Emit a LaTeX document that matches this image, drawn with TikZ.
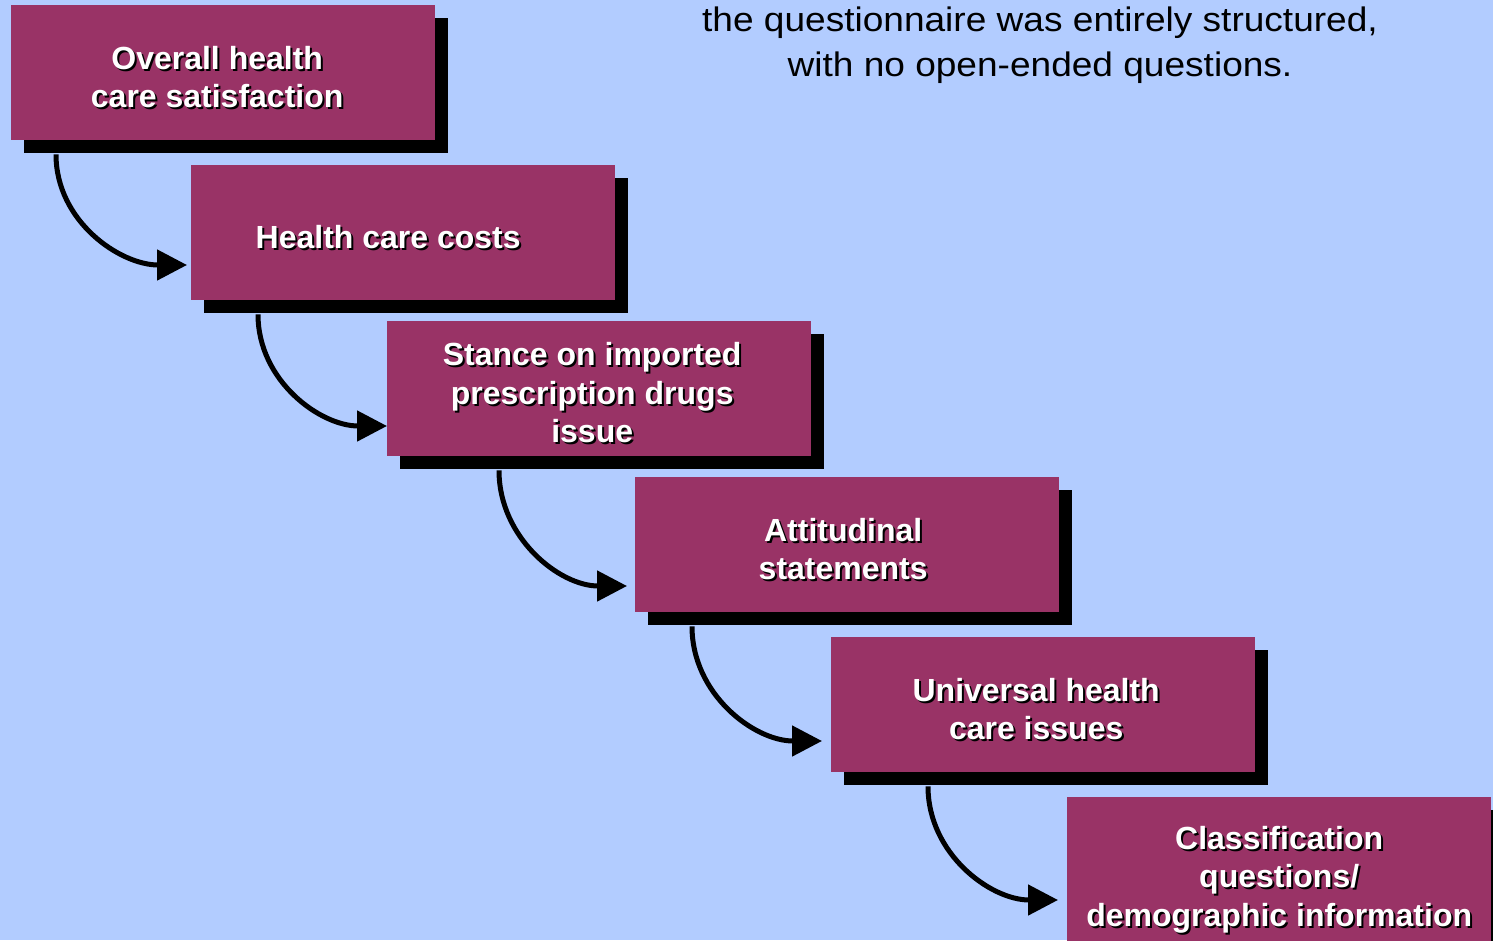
\documentclass[tikz,border=0pt]{standalone}
\usepackage{fontspec}
\setmainfont{Liberation Sans}
\newfontfamily\notefont[FakeStretch=1.09]{Liberation Sans}
\usetikzlibrary{arrows.meta,shadows}
\definecolor{slidebg}{RGB}{178,204,255}
\definecolor{boxred}{RGB}{153,51,102}
% white box text with a thin dark cast shadow, nudged by #1
\newcommand\castshadow[2][0pt]{\raisebox{-9pt}[\height][\depth]{\hspace*{#1}\rlap{\kern2pt\raisebox{-2pt}{\color{black}\begin{tabular}{@{}c@{}}#2\end{tabular}}}\begin{tabular}{@{}c@{}}#2\end{tabular}\hspace*{-#1}}}
\tikzset{
  stepbox/.style={rectangle, anchor=north west, fill=boxred, inner sep=0pt,
    minimum width=424pt, minimum height=135pt, text=white,
    font=\fontsize{32}{38.5}\selectfont\bfseries,
    drop shadow={shadow xshift=13pt, shadow yshift=-13pt, fill=black, opacity=1}},
  flow/.style={line width=5pt, -{Triangle[length=30pt,width=30pt]}}
}
\begin{document}
\begin{tikzpicture}[x=1pt,y=1pt]
    \fill[slidebg] (0,0) rectangle (1493,-940);
    \clip (0,0) rectangle (1493,-940);
    \useasboundingbox (0,0) rectangle (1493,-940);
    \node[font=\notefont\fontsize{34}{45}\selectfont, align=center, inner sep=0pt] (note) at (1040,-45)
        {the questionnaire was entirely structured,\\with no open-ended questions.};
    \node[stepbox] (s1) at (11,-5) {\castshadow[-6pt]{Overall health\\care satisfaction}};
    \node[stepbox] (s2) at (191,-165) {\castshadow[-15pt]{Health care costs}};
    \node[stepbox] (s3) at (387,-321) {\castshadow[-7pt]{Stance on imported\\prescription drugs\\issue}};
    \node[stepbox] (s4) at (635,-477) {\castshadow[-4pt]{Attitudinal\\statements}};
    \node[stepbox] (s5) at (831,-637) {\castshadow[-7pt]{Universal health\\care issues}};
    \node[stepbox, minimum height=150pt] (s6) at (1067,-797) {\castshadow{Classification\\questions/\\demographic information}};
    \foreach \a/\b/\dx/\tx/\ty in {s1/s2/45/4/100, s2/s3/67/0/105, s3/s4/112/8/109, s4/s5/57/9/104, s5/s6/97/9/103}
        \draw[flow] ([xshift=\dx pt,yshift=-14pt]\a.south west) to[out=-90,in=180] ([xshift=-\tx pt,yshift=-\ty pt]\b.north west);
\end{tikzpicture}
\end{document}
